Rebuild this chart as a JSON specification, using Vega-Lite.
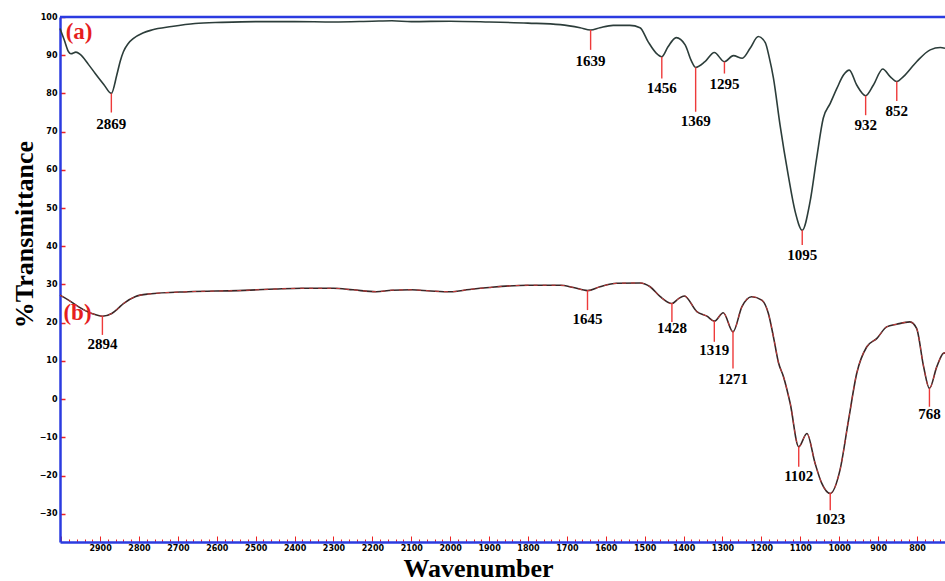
{
  "$schema": "https://vega.github.io/schema/vega-lite/v6.json",
  "autosize": {"type": "none"},
  "padding": {"top": 17, "left": 60, "right": 0, "bottom": 39},
  "width": 885,
  "height": 525,
  "background": "white",
  "config": {"view": {"stroke": null}},
  "datasets": {
    "specA": [
      {"w": 3003, "t": 97.0}, {"w": 2992, "t": 94.0}, {"w": 2981, "t": 90.9}, {"w": 2975, "t": 90.4},
      {"w": 2962, "t": 90.8}, {"w": 2951, "t": 90.2}, {"w": 2930, "t": 87.6}, {"w": 2913, "t": 85.3},
      {"w": 2890, "t": 82.3}, {"w": 2871, "t": 80.0}, {"w": 2857, "t": 84.8}, {"w": 2848, "t": 88.5},
      {"w": 2840, "t": 90.9}, {"w": 2828, "t": 93.0}, {"w": 2814, "t": 94.4}, {"w": 2790, "t": 95.8},
      {"w": 2767, "t": 96.6}, {"w": 2716, "t": 97.5}, {"w": 2656, "t": 98.3}, {"w": 2587, "t": 98.6},
      {"w": 2500, "t": 98.8}, {"w": 2400, "t": 98.8}, {"w": 2300, "t": 98.7}, {"w": 2200, "t": 98.9},
      {"w": 2150, "t": 99.0}, {"w": 2100, "t": 98.8}, {"w": 2000, "t": 98.9}, {"w": 1900, "t": 98.7},
      {"w": 1800, "t": 98.4}, {"w": 1717, "t": 98.0}, {"w": 1666, "t": 97.2}, {"w": 1639, "t": 96.6},
      {"w": 1615, "t": 97.2}, {"w": 1581, "t": 97.8}, {"w": 1538, "t": 97.8}, {"w": 1512, "t": 97.2},
      {"w": 1491, "t": 93.5}, {"w": 1470, "t": 90.5}, {"w": 1456, "t": 89.6}, {"w": 1440, "t": 92.2},
      {"w": 1419, "t": 94.6}, {"w": 1396, "t": 92.7}, {"w": 1380, "t": 88.5}, {"w": 1369, "t": 86.8},
      {"w": 1345, "t": 88.3}, {"w": 1321, "t": 90.7}, {"w": 1295, "t": 88.3}, {"w": 1272, "t": 89.9},
      {"w": 1249, "t": 89.2}, {"w": 1229, "t": 91.8}, {"w": 1208, "t": 94.9}, {"w": 1190, "t": 93.3},
      {"w": 1180, "t": 89.5}, {"w": 1169, "t": 84.0}, {"w": 1152, "t": 71.7}, {"w": 1131, "t": 58.6},
      {"w": 1113, "t": 49.0}, {"w": 1095, "t": 44.2}, {"w": 1075, "t": 51.6}, {"w": 1058, "t": 63.0},
      {"w": 1041, "t": 73.5}, {"w": 1023, "t": 77.4}, {"w": 1006, "t": 81.3}, {"w": 989, "t": 84.8},
      {"w": 974, "t": 86.1}, {"w": 955, "t": 82.2}, {"w": 932, "t": 79.4}, {"w": 912, "t": 82.2},
      {"w": 888, "t": 86.4}, {"w": 869, "t": 84.4}, {"w": 852, "t": 83.1}, {"w": 835, "t": 84.4},
      {"w": 801, "t": 88.3}, {"w": 766, "t": 91.4}, {"w": 740, "t": 92.0}, {"w": 728, "t": 91.8}
    ],
    "specB": [
      {"w": 3003, "t": 27.2}, {"w": 2981, "t": 25.9}, {"w": 2956, "t": 24.2}, {"w": 2921, "t": 22.4},
      {"w": 2894, "t": 21.7}, {"w": 2870, "t": 22.4}, {"w": 2855, "t": 23.6}, {"w": 2840, "t": 25.0},
      {"w": 2810, "t": 26.8}, {"w": 2776, "t": 27.5}, {"w": 2673, "t": 28.1}, {"w": 2545, "t": 28.4},
      {"w": 2450, "t": 28.8}, {"w": 2381, "t": 29.0}, {"w": 2300, "t": 29.0}, {"w": 2250, "t": 28.6},
      {"w": 2190, "t": 28.1}, {"w": 2150, "t": 28.5}, {"w": 2100, "t": 28.6}, {"w": 2050, "t": 28.3},
      {"w": 2000, "t": 28.1}, {"w": 1950, "t": 28.7}, {"w": 1900, "t": 29.2}, {"w": 1800, "t": 29.8},
      {"w": 1717, "t": 29.8}, {"w": 1683, "t": 29.2}, {"w": 1647, "t": 28.4}, {"w": 1615, "t": 29.4},
      {"w": 1572, "t": 30.3}, {"w": 1512, "t": 30.4}, {"w": 1486, "t": 29.4}, {"w": 1460, "t": 26.8},
      {"w": 1430, "t": 25.0}, {"w": 1413, "t": 26.3}, {"w": 1398, "t": 27.0}, {"w": 1366, "t": 22.9},
      {"w": 1340, "t": 21.7}, {"w": 1321, "t": 20.4}, {"w": 1298, "t": 22.6}, {"w": 1273, "t": 17.6},
      {"w": 1250, "t": 24.2}, {"w": 1225, "t": 26.8}, {"w": 1199, "t": 25.9}, {"w": 1182, "t": 22.4},
      {"w": 1169, "t": 16.3}, {"w": 1156, "t": 9.5}, {"w": 1143, "t": 5.8}, {"w": 1126, "t": -1.1},
      {"w": 1104, "t": -12.5}, {"w": 1083, "t": -9.0}, {"w": 1062, "t": -16.8}, {"w": 1045, "t": -22.0},
      {"w": 1023, "t": -24.7}, {"w": 998, "t": -18.6}, {"w": 976, "t": -5.5}, {"w": 955, "t": 6.7},
      {"w": 929, "t": 13.7}, {"w": 903, "t": 15.9}, {"w": 878, "t": 18.9}, {"w": 852, "t": 19.6},
      {"w": 818, "t": 20.2}, {"w": 801, "t": 18.5}, {"w": 783, "t": 8.5}, {"w": 768, "t": 2.8},
      {"w": 749, "t": 8.5}, {"w": 732, "t": 12.0}, {"w": 728, "t": 12.1}
    ],
    "peaks": [
      {"w": 2871, "top": 80.0, "bottom": 75.0, "ty": 72.0, "label": "2869"},
      {"w": 1639, "top": 96.6, "bottom": 91.4, "ty": 88.6, "label": "1639"},
      {"w": 1456, "top": 89.6, "bottom": 83.9, "ty": 81.3, "label": "1456"},
      {"w": 1369, "top": 86.8, "bottom": 75.2, "ty": 72.9, "label": "1369"},
      {"w": 1295, "top": 88.3, "bottom": 85.2, "ty": 82.5, "label": "1295"},
      {"w": 1095, "top": 44.2, "bottom": 40.3, "ty": 37.7, "label": "1095"},
      {"w": 932, "top": 79.4, "bottom": 74.3, "ty": 71.8, "label": "932"},
      {"w": 852, "top": 83.1, "bottom": 78.0, "ty": 75.3, "label": "852"},
      {"w": 2894, "top": 21.7, "bottom": 16.8, "ty": 14.4, "label": "2894"},
      {"w": 1647, "top": 28.4, "bottom": 23.3, "ty": 20.9, "label": "1645"},
      {"w": 1430, "top": 25.0, "bottom": 20.2, "ty": 18.7, "label": "1428"},
      {"w": 1321, "top": 20.4, "bottom": 15.0, "ty": 12.9, "label": "1319"},
      {"w": 1273, "top": 17.6, "bottom": 8.0, "ty": 5.2, "label": "1271"},
      {"w": 1104, "top": -12.5, "bottom": -17.7, "ty": -20.1, "label": "1102"},
      {"w": 1023, "top": -24.7, "bottom": -29.1, "ty": -31.3, "label": "1023"},
      {"w": 768, "top": 2.8, "bottom": -2.0, "ty": -3.9, "label": "768"}
    ],
    "tags": [
      {"w": 2954, "t": 96.1, "label": "(a)"},
      {"w": 2958, "t": 22.6, "label": "(b)"}
    ],
    "frame": [{"t": 100}]
  },
  "encoding": {
    "x": {
      "field": "w", "type": "quantitative",
      "scale": {"domain": [3003, 728], "nice": false, "zero": false},
      "axis": {
        "title": "Wavenumber",
        "titleFont": "Liberation Serif", "titleFontSize": 26, "titleFontWeight": "bold", "titleColor": "black",
        "titleX": 418, "titleY": 34, "titleBaseline": "alphabetic", "titleAnchor": null,
        "values": [3000,2980,2960,2940,2920,2900,2880,2860,2840,2820,2800,2780,2760,2740,2720,2700,2680,2660,2640,2620,2600,2580,2560,2540,2520,2500,2480,2460,2440,2420,2400,2380,2360,2340,2320,2300,2280,2260,2240,2220,2200,2180,2160,2140,2120,2100,2080,2060,2040,2020,2000,1980,1960,1940,1920,1900,1880,1860,1840,1820,1800,1780,1760,1740,1720,1700,1680,1660,1640,1620,1600,1580,1560,1540,1520,1500,1480,1460,1440,1420,1400,1380,1360,1340,1320,1300,1280,1260,1240,1220,1200,1180,1160,1140,1120,1100,1080,1060,1040,1020,1000,980,960,940,920,900,880,860,840,820,800,780,760,740],
        "labelExpr": "(datum.value % 100 === 0 && datum.value <= 2900) ? format(datum.value, 'd') : ''",
        "labelFont": "DejaVu Sans", "labelFontSize": 8, "labelFontWeight": "bold", "labelColor": "black",
        "labelPadding": 8, "labelFlush": false, "labelOverlap": false,
        "tickColor": "#ee2222", "tickWidth": 1,
        "tickSize": {"condition": {"test": "datum.value % 100 === 0", "value": -6}, "value": -3},
        "domainColor": "#2b3be0", "domainWidth": 2.5,
        "grid": false
      }
    }
  },
  "layer": [
    {
      "data": {"name": "frame"},
      "mark": {"type": "rule", "color": "#2b3be0", "strokeWidth": 2.5},
      "encoding": {"x": null, "y": {"field": "t", "type": "quantitative"}}
    },
    {
      "data": {"name": "specA"},
      "mark": {"type": "line", "color": "#2c3d3a", "strokeWidth": 1.6, "interpolate": "monotone"},
      "encoding": {
        "y": {
          "field": "t", "type": "quantitative",
          "scale": {"domain": [-37.4, 100], "nice": false, "zero": false},
          "axis": {
            "title": "%Transmittance",
            "titleFont": "Liberation Serif", "titleFontSize": 26, "titleFontWeight": "bold", "titleColor": "black",
            "titleX": -28, "titleY": 217, "titleBaseline": "alphabetic", "titleAngle": -90,
            "values": [100, 90, 80, 70, 60, 50, 40, 30, 20, 10, 0, -10, -20, -30],
            "format": "d",
            "labelFont": "DejaVu Sans", "labelFontSize": 8, "labelFontWeight": "bold", "labelColor": "black",
            "labelPadding": 8, "labelOverlap": false, "labelFlush": false,
            "tickColor": "#ee2222", "tickSize": -5, "tickWidth": 1.5,
            "domainColor": "#2b3be0", "domainWidth": 2.5,
            "grid": false
          }
        }
      }
    },
    {
      "data": {"name": "specB"},
      "mark": {"type": "line", "color": "#3a2626", "strokeWidth": 1.6, "interpolate": "monotone"},
      "encoding": {"y": {"field": "t", "type": "quantitative"}}
    },
    {
      "data": {"name": "specB"},
      "mark": {"type": "line", "color": "#c83a3a", "strokeWidth": 1, "strokeDash": [4, 5], "interpolate": "monotone"},
      "encoding": {"y": {"field": "t", "type": "quantitative"}}
    },
    {
      "data": {"name": "peaks"},
      "mark": {"type": "rule", "color": "#ee3a3a", "strokeWidth": 1.4},
      "encoding": {"y": {"field": "top", "type": "quantitative"}, "y2": {"field": "bottom"}}
    },
    {
      "data": {"name": "peaks"},
      "mark": {"type": "text", "font": "Liberation Serif", "fontSize": 15, "fontWeight": "bold", "color": "black", "align": "center", "baseline": "middle"},
      "encoding": {"y": {"field": "ty", "type": "quantitative"}, "text": {"field": "label"}}
    },
    {
      "data": {"name": "tags"},
      "mark": {"type": "text", "font": "Liberation Serif", "fontSize": 23, "fontWeight": "bold", "color": "#e61e1e", "align": "center", "baseline": "middle"},
      "encoding": {"y": {"field": "t", "type": "quantitative"}, "text": {"field": "label"}}
    }
  ]
}
